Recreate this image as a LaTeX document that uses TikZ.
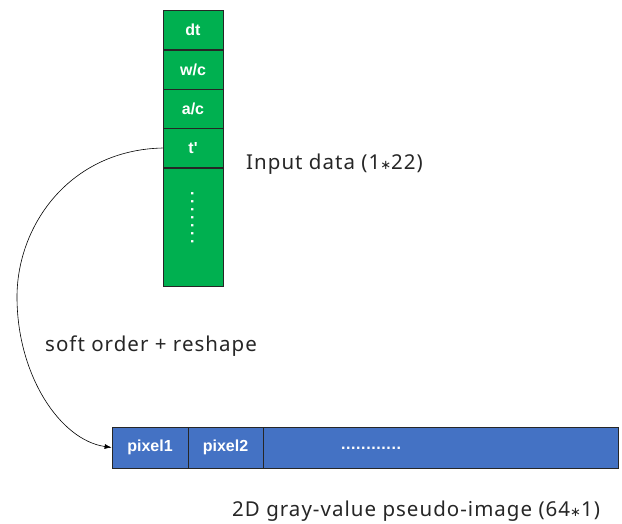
\documentclass[tikz,border=0pt]{standalone}
\usepackage{fontspec}
\setmainfont{Noto Sans}
\newfontfamily\capfont{Noto Sans}[LetterSpace=5]
\newfontfamily\symfont{DejaVu Sans}
\newfontfamily\cellfont{Liberation Sans}
\usetikzlibrary{arrows.meta}
\definecolor{cellgreen}{RGB}{0,176,80}
\definecolor{cellblue}{RGB}{68,114,196}
\definecolor{captiongray}{RGB}{38,38,38}
\newcommand{\midstar}{{\symfont\fontsize{13}{16}\selectfont ∗}}
\tikzset{
  labelfont/.style={font=\cellfont\fontsize{16}{18}\selectfont\bfseries},
  gcell/.style={draw=black!85, line width=0.8pt, fill=cellgreen, minimum width=60pt,
    minimum height=39pt, inner sep=0pt, text=white, labelfont},
  bcell/.style={draw=black!85, line width=0.8pt, fill=cellblue, minimum height=41pt,
    inner sep=0pt, text=white, labelfont},
  caption/.style={anchor=west, inner sep=0pt, text=captiongray,
    font=\capfont\fontsize{20.5}{24}\selectfont}
}
\begin{document}
\begin{tikzpicture}[x=1pt,y=-1pt]
  \useasboundingbox (0,0) rectangle (622,523);
  % input vector column
  \node[gcell] (dt) at (193,30) {dt};
  \node[gcell] (wc) at (193,69.5) {w/c};
  \node[gcell] (ac) at (193,108.5) {a/c};
  \node[gcell] (tp) at (193,148) {t'};
  \node[gcell, minimum height=118pt] (rest) at (193,227) {};
  \node[rotate=-90, text=white, labelfont, inner sep=0pt, anchor=base]
    (vdots) at (191,217.5)
    {.\kern3.6pt.\kern3.6pt.\kern3.6pt.\kern3.6pt.\kern3.6pt.\kern3.6pt.};
  \node[caption] (inlabel) at (246,164) {Input data (1\midstar22)};

  % pseudo-image row
  \node[bcell, minimum width=76pt] (p1) at (150,447.5) {pixel1};
  \node[bcell, minimum width=75pt] (p2) at (225.5,447.5) {pixel2};
  \node[bcell, minimum width=355pt] (prest) at (440.5,447.5) {};
  \node[text=white, labelfont, inner sep=0pt, anchor=base]
    (hdots) at (371,449)
    {.\kern0.6pt.\kern0.6pt.\kern0.6pt.\kern0.6pt.\kern0.6pt.\kern0.6pt.\kern0.6pt.\kern0.6pt.\kern0.6pt.\kern0.6pt.\kern0.6pt.};
  \node[caption] (outlabel) at (232,511) {2D gray-value pseudo-image (64\midstar1)};

  % reordering arrow
  \coordinate (bend) at (17,297);
  \draw[line width=0.6pt, -{Latex[length=7pt,width=5pt]}]
    (tp.west) .. controls (70,150) and (17,225) .. (bend)
    .. controls (17,375) and (60,440) .. (p1.west);
  \node[caption] (oplabel) at (45,346) {soft order + reshape};
\end{tikzpicture}
\end{document}
